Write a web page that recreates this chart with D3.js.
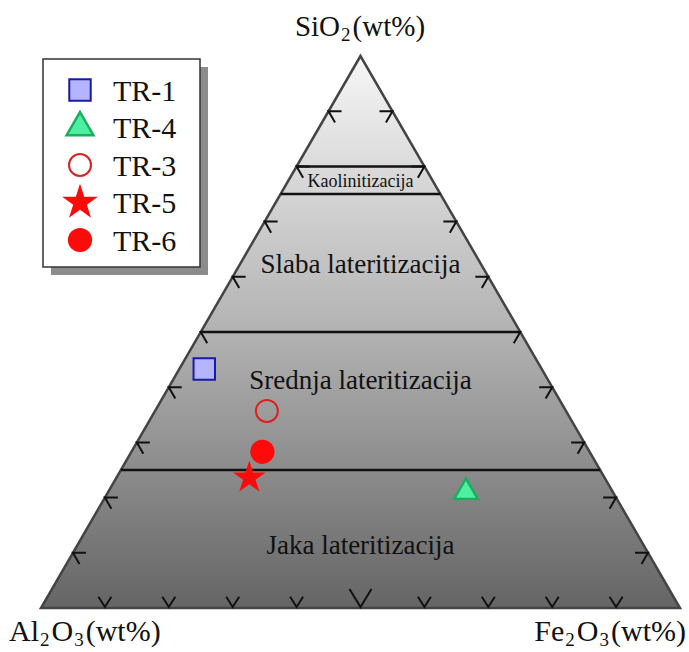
<!DOCTYPE html>
<html>
<head>
<meta charset="utf-8">
<script src="https://cdn.jsdelivr.net/npm/d3@7"></script>
<style>
  body { margin: 0; background: #fff; }
</style>
</head>
<body>
<div id="chart"></div>
<script>
// sample compositions (wt%)
var sample_names = ["TR-1", "TR-4", "TR-3", "TR-5", "TR-6"];
var sio2  = [43.3, 21.0, 35.7, 23.6, 28.3];
var al2o3 = [52.8, 23.0, 46.8, 55.6, 51.2];
var fe2o3 = [3.9, 56.0, 17.5, 20.8, 20.5];

// SiO2 levels of the field boundaries and the zone names between them
var boundary_levels = [80, 75, 50, 25];
var zone_names = ["Kaolinitizacija", "Slaba lateritizacija", "Srednja lateritizacija", "Jaka lateritizacija"];
var zone_mid_levels = [77.3, 62.3, 41.3, 11.5];
var tick_levels = [10, 20, 30, 40, 50, 60, 70, 80, 90];

var width = 689, height = 652;
var xL = 41, xR = 680, yB = 608, yT = 56;
var serif = "'Liberation Serif', 'Times New Roman', Times, serif";

var svg = d3.select("#chart").append("svg")
    .attr("width", width)
    .attr("height", height)
    .attr("font-family", serif);

var x = d3.scaleLinear().domain([0, 100]).range([xL, xR]);
var y = d3.scaleLinear().domain([0, 100]).range([yB, yT]);

// ternary -> pixel (Fe2O3 to the right, SiO2 up)
function proj(si, fe) {
    return [x(fe + si / 2), y(si)];
}

//Gradient fill of the triangle
var defs = svg.append("defs");
var grad = defs.append("linearGradient").attr("id", "bg")
    .attr("x1", 0).attr("y1", 0).attr("x2", 0).attr("y2", 1);
grad.append("stop").attr("offset", "0%").attr("stop-color", "#f6f6f6");
grad.append("stop").attr("offset", "50%").attr("stop-color", "#b2b2b2");
grad.append("stop").attr("offset", "100%").attr("stop-color", "#656565");

var corners = [proj(100, 0), proj(0, 0), proj(0, 100)];
svg.append("path")
    .attr("d", "M" + corners.join("L") + "Z")
    .attr("fill", "url(#bg)")
    .attr("stroke", "#444")
    .attr("stroke-width", 2.5)
    .attr("stroke-linejoin", "miter");

var g_ticks = svg.append("g").attr("stroke", "#111").attr("stroke-width", 2).attr("fill", "none");
var tl = 13;
var c60 = Math.cos(Math.PI / 3), s60 = Math.sin(Math.PI / 3);

tick_levels.forEach(function (v) {
    // left edge "<"
    var p = proj(v, 0);
    g_ticks.append("path").attr("d", "M" + (p[0] + tl) + "," + p[1] + "L" + p[0] + "," + p[1] +
        "L" + (p[0] + tl * c60) + "," + (p[1] + tl * s60));
    // right edge ">"
    var q = proj(v, 100 - v);
    g_ticks.append("path").attr("d", "M" + (q[0] - tl) + "," + q[1] + "L" + q[0] + "," + q[1] +
        "L" + (q[0] - tl * c60) + "," + (q[1] + tl * s60));
    // base "V"
    var b = proj(0, v);
    var l = v == 50 ? 22 : tl;
    g_ticks.append("path").attr("d", "M" + (b[0] - l * c60) + "," + (b[1] - l * s60) + "L" + b[0] + "," + (b[1] - 1) +
        "L" + (b[0] + l * c60) + "," + (b[1] - l * s60));
});

//Field boundaries
svg.append("g").selectAll("line")
    .data(boundary_levels)
    .enter().append("line")
    .attr("x1", function (d) { return proj(d, 0)[0]; })
    .attr("x2", function (d) { return proj(d, 100 - d)[0]; })
    .attr("y1", function (d) { return y(d); })
    .attr("y2", function (d) { return y(d); })
    .attr("stroke", "#111")
    .attr("stroke-width", 2.5);

var zone_sizes = [18, 27, 27, 27];
svg.append("g").selectAll("text")
    .data(zone_names)
    .enter().append("text")
    .attr("x", x(50))
    .attr("y", function (d, i) { return y(zone_mid_levels[i]); })
    .attr("text-anchor", "middle")
    .attr("dominant-baseline", "central")
    .attr("font-size", function (d, i) { return zone_sizes[i]; })
    .attr("fill", "#111")
    .text(function (d) { return d; });

//Axis labels with subscripts
function chemLabel(px, py, anchor, size, parts) {
    var t = svg.append("text").attr("x", px).attr("y", py)
        .attr("text-anchor", anchor).attr("font-size", size).attr("fill", "#111");
    parts.forEach(function (p) {
        var s = t.append("tspan").text(p[0]);
        if (p[1]) s.attr("font-size", 19).attr("dx", 1).attr("dy", 5);
        else if (p[2]) s.attr("dx", 2).attr("dy", -5);
    });
}
chemLabel(360, 36, "middle", 29, [["SiO"], ["2", 1], ["(wt%)", 0, 1]]);
chemLabel(9, 641, "start", 30, [["Al"], ["2", 1], ["O", 0, 1], ["3", 1], ["(wt%)", 0, 1]]);
chemLabel(686, 641, "end", 30, [["Fe"], ["2", 1], ["O", 0, 1], ["3", 1], ["(wt%)", 0, 1]]);

//Marker styles
var styles = {
    "TR-1": { type: d3.symbolSquare, size: 460, fill: "#b4b4ff", stroke: "#1a1aa8", sw: 2 },
    "TR-4": { type: d3.symbolTriangle, size: 240, fill: "#4cf0a0", stroke: "#1cae5e", sw: 2.5 },
    "TR-3": { type: d3.symbolCircle, size: 380, fill: "none", stroke: "#dd2020", sw: 2 },
    "TR-5": { type: d3.symbolStar, size: 330, fill: "#ff0a0a", stroke: "#ff0a0a", sw: 0 },
    "TR-6": { type: d3.symbolCircle, size: 460, fill: "#ff0a0a", stroke: "#ff0a0a", sw: 0 }
};

svg.append("g").selectAll("path")
    .data(sample_names)
    .enter().append("path")
    .attr("transform", function (d, i) {
        var p = proj(sio2[i], fe2o3[i]);
        return "translate(" + p[0] + "," + p[1] + ")";
    })
    .attr("d", function (d) { return d3.symbol().type(styles[d].type).size(styles[d].size)(); })
    .attr("fill", function (d) { return styles[d].fill; })
    .attr("stroke", function (d) { return styles[d].stroke; })
    .attr("stroke-width", function (d) { return styles[d].sw; });

//Legend
var lg = svg.append("g");
lg.append("rect").attr("x", 51).attr("y", 67).attr("width", 157).attr("height", 208).attr("fill", "#8c8c8c");
lg.append("rect").attr("x", 43).attr("y", 59).attr("width", 157).attr("height", 208)
    .attr("fill", "#fff").attr("stroke", "#333").attr("stroke-width", 1.5);

var legend_y = d3.scalePoint().domain(sample_names).range([90, 240]);
var item = lg.selectAll("g.item")
    .data(sample_names)
    .enter().append("g")
    .attr("class", "item")
    .attr("transform", function (d) { return "translate(80," + legend_y(d) + ")"; });
item.append("path")
    .attr("d", function (d) {
        var sz = styles[d].size * (d == "TR-4" ? 1.3 : d == "TR-5" ? 1.2 : 1);
        return d3.symbol().type(styles[d].type).size(sz)();
    })
    .attr("fill", function (d) { return styles[d].fill; })
    .attr("stroke", function (d) { return styles[d].stroke; })
    .attr("stroke-width", function (d) { return styles[d].sw; });
item.append("text")
    .attr("x", 33)
    .attr("dominant-baseline", "central")
    .attr("font-size", 30)
    .attr("fill", "#111")
    .text(function (d) { return d; });
</script>
</body>
</html>
